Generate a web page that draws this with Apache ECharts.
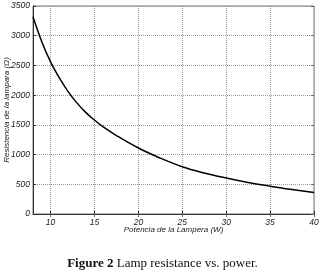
<!DOCTYPE html>
<html>
<head>
  <meta charset="UTF-8">
  <title>Lamp resistance vs. power</title>
  <style>
    html, body { margin: 0; padding: 0; background: #fff; }
    #chart { width: 325px; height: 270px; }
  </style>
</head>
<body>
  <div id="chart"></div>
  <script src="https://cdn.jsdelivr.net/npm/echarts@6/dist/echarts.min.js"></script>
  <script>
    // potencia (W) y resistencia (ohm)
    const power = [8, 9, 10, 11, 12, 13, 14, 15, 16, 17.5, 20, 22.5, 25, 27.5, 30, 32.5, 35, 37.5, 40];
    const resistance = [3320, 2900, 2560, 2290, 2060, 1870, 1710, 1580, 1465, 1320, 1110, 940, 795, 690, 605, 530, 468, 412, 360];
    const xTicks = [10, 15, 20, 25, 30, 35, 40];
    const yTicks = [0, 500, 1000, 1500, 2000, 2500, 3000, 3500];

    const labelFont = { fontFamily: 'Liberation Sans', fontStyle: 'italic', fontSize: 8.5, color: '#222' };
    const nameFont = { fontFamily: 'Liberation Sans', fontStyle: 'italic', fontSize: 8, color: '#222' };

    const chart = echarts.init(document.getElementById('chart'));
    chart.setOption({
      animation: false,
      title: {
        text: '{b|Figure 2} Lamp resistance vs. power.',
        left: 'center',
        top: 252,
        textStyle: {
          fontFamily: 'Liberation Serif',
          fontSize: 13,
          fontWeight: 'normal',
          color: '#111',
          rich: {
            b: { fontFamily: 'Liberation Serif', fontSize: 13, fontWeight: 'bold', color: '#111' }
          }
        }
      },
      grid: {
        left: 33, right: 11, top: 6, bottom: 56,
        containLabel: false,
        outerBoundsMode: 'none',
        show: true, borderColor: '#777', borderWidth: 1
      },
      xAxis: [{
        type: 'value',
        min: 8, max: 40,
        name: 'Potencia de la Lampera (W)',
        nameLocation: 'middle',
        nameGap: 12,
        nameMoveOverlap: false,
        nameTextStyle: nameFont,
        axisLine: { lineStyle: { color: '#333' } },
        axisTick: { inside: true, length: 3, customValues: xTicks, lineStyle: { color: '#333' } },
        axisLabel: Object.assign({ margin: 4, customValues: xTicks, formatter: v => String(v) }, labelFont),
        splitLine: { lineStyle: { type: 'dotted', color: '#999' } }
      }, {
        type: 'value', position: 'top',
        min: 8, max: 40,
        axisLine: { show: false },
        axisTick: { inside: true, length: 3, customValues: xTicks, lineStyle: { color: '#666' } },
        axisLabel: { show: false },
        splitLine: { show: false }
      }],
      yAxis: [{
        type: 'value',
        min: 0, max: 3500, interval: 500,
        name: 'Resistencia de la lampara (Ω)',
        nameLocation: 'middle',
        nameGap: 22,
        nameMoveOverlap: false,
        nameTextStyle: nameFont,
        axisLine: { show: true, lineStyle: { color: '#333' } },
        axisTick: { show: true, inside: true, length: 3, lineStyle: { color: '#333' } },
        axisLabel: Object.assign({ margin: 3, customValues: yTicks, formatter: v => String(v) }, labelFont),
        splitLine: { lineStyle: { type: 'dotted', color: '#999' } }
      }, {
        type: 'value', position: 'right',
        min: 0, max: 3500, interval: 500,
        axisLine: { show: false },
        axisTick: { show: true, inside: true, length: 3, lineStyle: { color: '#666' } },
        axisLabel: { show: false },
        splitLine: { show: false }
      }],
      series: [{
        type: 'line',
        smooth: 0.4,
        showSymbol: false,
        lineStyle: { color: '#000', width: 1.5 },
        data: power.map((p, i) => [p, resistance[i]])
      }]
    });
  </script>
</body>
</html>
